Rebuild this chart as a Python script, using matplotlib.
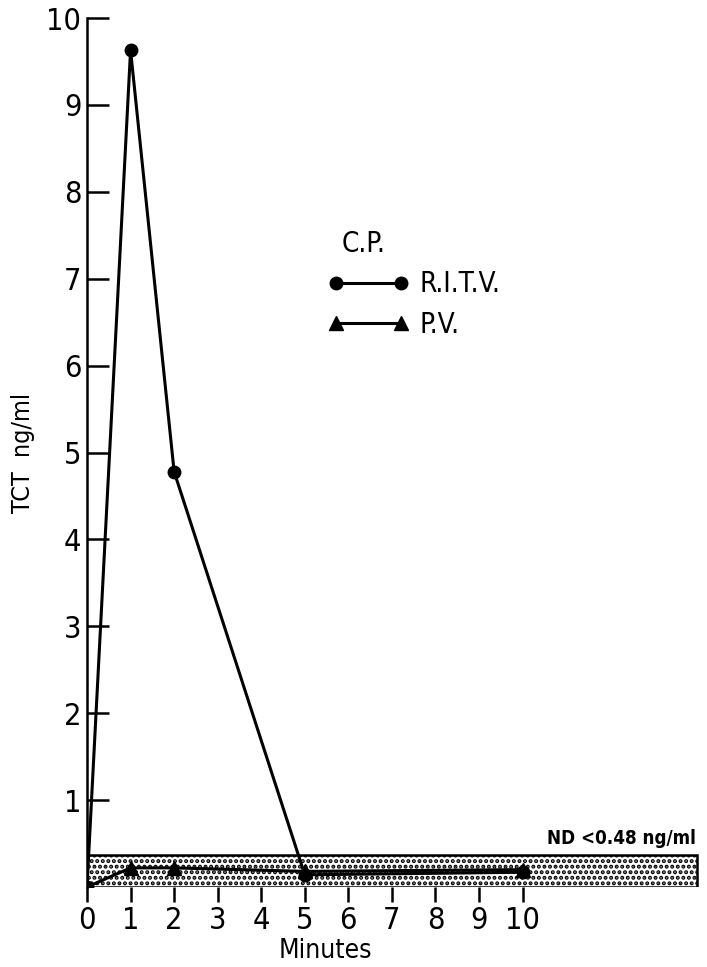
import matplotlib
matplotlib.use("Agg")
import matplotlib.pyplot as plt

plt.rcParams['font.family'] = ['DejaVu Sans']
plt.rcParams['font.stretch'] = 'condensed'
plt.rcParams['hatch.linewidth'] = 2.0

minutes = [0, 1, 2, 5, 10]
ritv = [0.0, 9.63, 4.78, 0.14, 0.17]
pv = [0.0, 0.22, 0.22, 0.18, 0.20]
nd_limit = 0.37      # drawn height of the ND band
nd_end = 14.0
yticks = list(range(1, 11))
xticks = list(range(0, 11))

fig = plt.figure(figsize=(7.07, 9.67), dpi=100)
ax = fig.add_axes([87 / 707, 80 / 967, 612 / 707, 869 / 967])

# shaded "not detectable" band
ax.add_patch(plt.Rectangle((0, 0), nd_end, nd_limit, facecolor='white',
                           edgecolor='black', hatch='...', linewidth=1.8, zorder=1))
ax.text(nd_end - 0.03, nd_limit + 0.08, 'ND <0.48 ng/ml', ha='right', va='bottom',
        fontsize=13.5, fontweight='bold')

ax.plot(minutes, ritv, color='black', lw=2.2, marker='o', ms=9, label='R.I.T.V.', zorder=3)
ax.plot(minutes, pv, color='black', lw=2.2, marker='^', ms=10, label='P.V.', zorder=3)

ax.set_xlim(0, 14.05)
ax.set_ylim(0, 10)
ax.set_yticks(yticks)
ax.set_xticks(xticks)
ax.tick_params(axis='y', direction='in', length=16, width=1.8, labelsize=22, pad=4)
ax.tick_params(axis='x', direction='out', length=11, width=1.8, labelsize=22, pad=3)
for s in ['top', 'right', 'bottom']:
    ax.spines[s].set_visible(False)
ax.spines['left'].set_linewidth(1.8)

ax.set_ylabel('TCT  ng/ml', fontsize=18, labelpad=8)
ax.set_xlabel('Minutes', fontsize=19, labelpad=2, x=0.39)

leg = ax.legend(title='C.P.', loc='upper left', bbox_to_anchor=(0.352, 0.785), frameon=False,
                numpoints=2, handlelength=2.95, fontsize=20, title_fontsize=20,
                labelspacing=0.45, handletextpad=0.35, alignment='left')
leg.get_title().set_position((14, 0))

fig.savefig('out.png', dpi=100)
